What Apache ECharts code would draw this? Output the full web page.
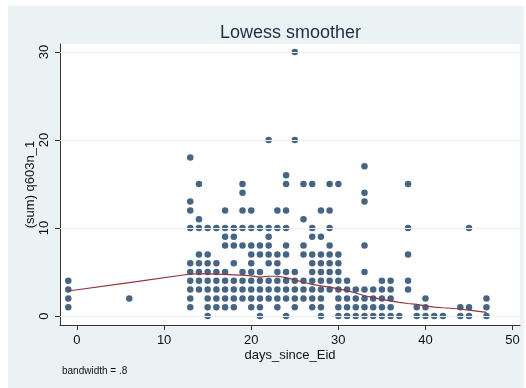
<!DOCTYPE html>
<html>
<head>
<meta charset="utf-8">
<script src="https://cdn.jsdelivr.net/npm/echarts@6/dist/echarts.min.js"></script>
<style>
  html, body { margin: 0; padding: 0; background: #fff; }
  #wrap { position: relative; width: 526px; height: 388px; background: #fff; }
  #frame { position: absolute; left: 8px; top: 6px; width: 516px; height: 382px; background: #eaf2f3; }
  #chart { position: absolute; left: 0; top: 0; width: 526px; height: 388px; }
</style>
</head>
<body>
<div id="wrap">
  <div id="frame"></div>
  <div id="chart"></div>
</div>
<script>
// observed x values (days_since_Eid) and the y values found at each of them
const days = [-1, 6, 13, 14, 15, 16, 17, 18, 19, 20, 21, 22, 23, 24, 25, 26, 27, 28, 29, 30,
  31, 32, 33, 34, 35, 36, 37, 38, 39, 40, 41, 42, 44, 45, 47];
const valuesByDay = [
  [1, 2, 3, 4],
  [2],
  [1, 2, 3, 4, 5, 6, 10, 12, 13, 18],
  [3, 4, 5, 6, 7, 10, 11, 15],
  [0, 1, 2, 3, 4, 5, 6, 7, 10],
  [1, 2, 3, 4, 5, 6, 10],
  [1, 2, 3, 4, 5, 8, 9, 10, 12],
  [1, 2, 3, 4, 6, 8, 9, 10],
  [2, 3, 4, 5, 8, 10, 12, 14, 15],
  [1, 2, 3, 4, 5, 6, 7, 8, 10, 12],
  [0, 1, 2, 3, 4, 5, 7, 8, 10],
  [2, 3, 4, 6, 7, 8, 9, 10, 20],
  [1, 2, 3, 4, 5, 6, 7, 10, 12],
  [0, 2, 3, 4, 5, 7, 8, 10, 12, 15, 16],
  [1, 2, 3, 4, 5, 20, 30],
  [2, 3, 4, 7, 8, 11, 15],
  [1, 2, 3, 4, 5, 6, 7, 9, 10, 15],
  [0, 1, 2, 3, 4, 5, 6, 7, 9, 12],
  [3, 4, 5, 6, 7, 8, 10, 12, 15],
  [0, 1, 2, 3, 4, 5, 6, 7, 15],
  [0, 1, 2, 3, 4],
  [0, 1, 2, 3],
  [0, 1, 2, 3, 5, 8, 13, 14, 17],
  [0, 1, 2, 3],
  [0, 1, 2, 3, 4],
  [0, 1, 2, 3, 4],
  [0],
  [3, 4, 7, 10, 15],
  [0, 1],
  [0, 1, 2],
  [0],
  [0],
  [0, 1],
  [0, 1, 10],
  [0, 1, 2]
];

// lowess fitted values
const lowessX = [-1, 6, 13, 14, 15, 16, 17, 18, 19, 20, 21, 22, 23, 24, 25, 26, 27, 28, 29, 30,
  31, 32, 33, 34, 35, 36, 37, 38, 39, 40, 41, 42, 44, 45, 47];
const lowessY = [2.84, 3.8, 4.77, 4.8, 4.78, 4.75, 4.72, 4.68, 4.64, 4.56, 4.42, 4.52, 4.52, 4.36, 4.1,
  3.84, 3.6, 3.42, 3.28, 3.08, 2.88, 2.62, 2.3, 2.08, 1.9, 1.72, 1.56, 1.42, 1.32, 1.15,
  1.02, 0.94, 0.8, 0.68, 0.42];

const xTicks = [0, 10, 20, 30, 40, 50];
const yTicks = [0, 10, 20, 30];

const points = [];
days.forEach((d, i) => valuesByDay[i].forEach((v) => points.push([d, v])));
const lowess = lowessX.map((x, i) => [x, lowessY[i]]);

const font = '"Liberation Sans", Arial, sans-serif';
const chart = echarts.init(document.getElementById('chart'));

chart.setOption({
  animation: false,
  backgroundColor: 'transparent',
  title: {
    text: 'Lowess smoother',
    left: 215,
    top: 19,
    textStyle: { fontFamily: font, fontSize: 18, fontWeight: 'normal', color: '#1e2d45' }
  },
  graphic: [{
    type: 'text',
    left: 62,
    top: 366,
    style: { text: 'bandwidth = .8', fontFamily: font, fontSize: 10, fill: '#111' }
  }],
  grid: { left: 60, right: 6, top: 44, bottom: 63, show: true, backgroundColor: '#fff', borderWidth: 0 },
  xAxis: {
    type: 'value',
    min: -1.95,
    max: 50.85,
    name: 'days_since_Eid',
    nameLocation: 'middle',
    nameGap: 24,
    nameMoveOverlap: false,
    nameTextStyle: { fontFamily: font, fontSize: 13, color: '#111' },
    axisLine: { show: true, onZero: false, lineStyle: { color: '#333', width: 1 } },
    axisTick: { show: true, length: 5, customValues: xTicks, lineStyle: { color: '#333' } },
    axisLabel: { customValues: xTicks, margin: 9, fontFamily: font, fontSize: 13, color: '#111' },
    splitLine: { show: false }
  },
  yAxis: {
    type: 'value',
    min: -1.02,
    max: 30.9,
    name: '(sum) q603n_1',
    nameLocation: 'middle',
    nameRotate: 90,
    nameGap: 23,
    nameMoveOverlap: false,
    nameTextStyle: { fontFamily: font, fontSize: 13, color: '#111' },
    axisLine: { show: true, onZero: false, lineStyle: { color: '#333', width: 1 } },
    axisTick: { show: true, length: 5, customValues: yTicks, lineStyle: { color: '#333' } },
    axisLabel: { customValues: yTicks, rotate: 90, margin: 9, fontFamily: font, fontSize: 13, color: '#111' },
    splitLine: { show: false }
  },
  series: [
    {
      type: 'line',
      data: [],
      z: 1,
      silent: true,
      markLine: {
        silent: true,
        symbol: 'none',
        label: { show: false },
        lineStyle: { color: '#eaf2f3', width: 1, type: 'solid' },
        data: yTicks.map((v) => ({ yAxis: v }))
      }
    },
    {
      type: 'scatter',
      data: points,
      symbol: 'circle',
      symbolSize: 6.5,
      z: 2,
      itemStyle: { color: '#173f66' }
    },
    {
      type: 'line',
      data: lowess,
      showSymbol: false,
      z: 3,
      lineStyle: { color: '#90353b', width: 1.2 }
    }
  ]
});
</script>
</body>
</html>
